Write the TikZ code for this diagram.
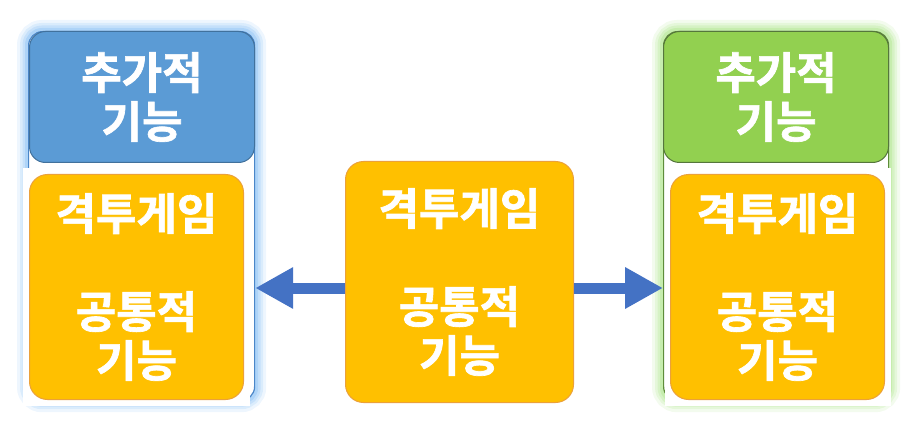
\documentclass[tikz,border=0pt]{standalone}
\usepackage{fontspec}
\newfontfamily\kr{Noto Sans CJK KR}[BoldFont=* Bold, BoldFeatures={FakeBold=1.5}]
\usetikzlibrary{arrows.meta,backgrounds}
\definecolor{blueFill}{HTML}{5B9BD5}
\definecolor{blueLine}{HTML}{41719C}
\definecolor{frameB}{HTML}{4A86C8}
\definecolor{glowB}{HTML}{8CC2F5}
\definecolor{greenFill}{HTML}{92D050}
\definecolor{greenLine}{HTML}{55763C}
\definecolor{frameG}{HTML}{5E8C3A}
\definecolor{glowG}{HTML}{AEE58C}
\definecolor{orFill}{HTML}{FFC000}
\definecolor{orLine}{HTML}{EBA13A}
\definecolor{arrB}{HTML}{4472C4}
\begin{document}
\begin{tikzpicture}[x=1pt,y=-1pt,
  txt/.style={text=white, font=\kr\bfseries\fontsize{44}{49}\selectfont, align=center},
  outer/.style={draw, line width=1.2pt, rounded corners=14pt, fill=white, anchor=north west, inner sep=0pt},
  topbox/.style={txt, draw, line width=1pt, rounded corners=16pt, anchor=north west, inner sep=0pt, minimum width=225pt, minimum height=131pt},
  patch/.style={fill=white, anchor=north west, inner sep=0pt, minimum width=227pt, minimum height=238pt},
  orbox/.style={txt, fill=orFill, draw=orLine, line width=1pt, rounded corners=18pt, anchor=north west, inner sep=0pt},
  barrow/.style={arrB, line width=11pt, -{Triangle[length=38pt,width=39pt]}}
]
\useasboundingbox (0,0) rectangle (920,422);
% left group
\node[outer, draw=frameB, minimum width=226pt, minimum height=369pt] (L) at (28,31) {};
\begin{scope}[on background layer]
\foreach \w/\o in {22/0.15,16/0.2,11/0.28,6/0.4}{
  \draw[glowB, line width=\w pt, opacity=\o, rounded corners=14pt] (L.north west) rectangle (L.south east);
}
\end{scope}
\node[topbox, fill=blueFill, draw=blueLine] (Ltop) at (29,31) {추가적\\기능};
\node[patch] (Lpatch) at (23,168) {};
\node[orbox, minimum width=214pt, minimum height=225pt] (Lbox) at (29,174) {격투게임\\\mbox{}\\공통적\\기능};
% right group
\node[outer, draw=frameG, minimum width=225pt, minimum height=369pt] (R) at (663,31) {};
\begin{scope}[on background layer]
\foreach \w/\o in {22/0.15,16/0.2,11/0.28,6/0.4}{
  \draw[glowG, line width=\w pt, opacity=\o, rounded corners=14pt] (R.north west) rectangle (R.south east);
}
\end{scope}
\node[topbox, fill=greenFill, draw=greenLine] (Rtop) at (663,31) {추가적\\기능};
\node[patch, minimum width=226pt] (Rpatch) at (665,168) {};
\node[orbox, minimum width=214pt, minimum height=225pt] (Rbox) at (670,174) {격투게임\\\mbox{}\\공통적\\기능};
% centre
\node[orbox, minimum width=228pt, minimum height=241pt] (C) at (345,161) {격투게임\\\mbox{}\\공통적\\기능};
% arrows
\draw[barrow] ([yshift=-6pt]C.west) -- ([yshift=-6pt]C.west -| L.east);
\draw[barrow] ([yshift=-6pt]C.east) -- ([yshift=-6pt]C.east -| R.west);
\end{tikzpicture}
\end{document}
